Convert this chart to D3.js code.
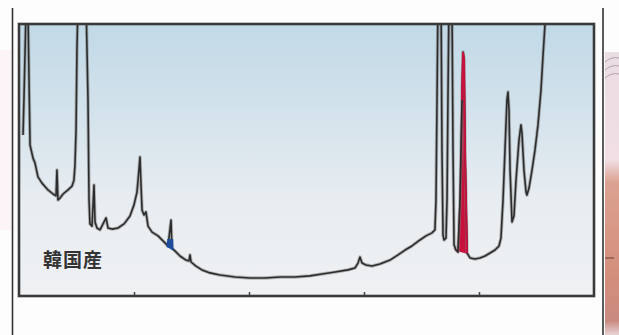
<!DOCTYPE html>
<html>
<head>
<meta charset="utf-8">
<script src="https://cdn.jsdelivr.net/npm/d3@7"></script>
<style>
  body { margin: 0; background: #fdfdfd; }
  svg { display: block; }
</style>
</head>
<body>
<svg id="chart"></svg>
<script>
// retention time (min) and detector signal
const times = [
  0.35, 0.43, 0.61, 0.78, 0.96, 1.22, 1.39, 1.65, 2.00, 2.52, 2.96, 3.22, 3.30, 3.39, 3.57, 3.83,
  4.26, 4.61, 4.78, 4.87, 4.96, 5.04, 5.13, 5.83, 6.00, 6.09, 6.17, 6.35, 6.52, 6.61, 6.78, 7.04,
  7.57, 7.74, 8.09, 8.61, 9.13, 9.65, 10.00, 10.26, 10.43, 10.52, 10.61, 10.70, 10.87, 11.04, 11.22, 11.57,
  12.09, 12.61, 12.96, 13.22, 13.30, 13.65, 14.00, 14.52, 14.78, 14.87, 14.96, 15.39, 15.91, 16.61, 17.48, 18.78,
  20.09, 21.39, 22.70, 24.00, 25.30, 26.35, 27.48, 28.61, 29.22, 29.48, 29.65, 29.83, 30.17, 30.70, 31.39, 32.26,
  32.96, 33.57, 34.17, 34.87, 35.39, 35.91, 36.17, 36.26, 36.35, 36.43, 36.70, 36.78, 36.87, 36.96, 37.13, 37.22,
  37.30, 37.39, 37.65, 37.74, 37.83, 38.00, 38.17, 38.35, 38.52, 38.61, 38.70, 38.78, 38.96, 39.22, 39.65, 40.09,
  40.52, 40.96, 41.39, 41.74, 41.91, 42.09, 42.26, 42.43, 42.52, 42.61, 42.70, 42.87, 43.04, 43.22, 43.48, 43.65,
  43.74, 43.91, 44.09, 44.17, 44.35, 44.61, 44.87, 45.13, 45.39, 45.57, 45.74, 45.91
];
const signal = [
  59.2, 72.1, 105, 105, 55.5, 50.7, 48.9, 43.8, 41.5, 39.0, 37.5, 36.8, 46.3, 35.3, 36.0, 37.5,
  39.0, 40.4, 42.6, 48.2, 61.0, 90.4, 108, 108, 72.1, 35.3, 26.5, 25.7, 40.8, 27.2, 25.0, 24.3,
  28.7, 25.0, 24.6, 25.0, 26.5, 29.4, 33.5, 38.2, 46.3, 51.1, 40.8, 31.6, 29.8, 30.9, 25.7, 23.5,
  22.1, 19.9, 18.4, 27.9, 17.6, 16.2, 14.7, 13.2, 12.9, 15.1, 12.5, 11.0, 9.6, 8.5, 7.7, 7.0,
  6.6, 6.6, 7.0, 7.0, 7.4, 8.1, 8.8, 9.6, 10.3, 12.1, 14.3, 12.1, 11.4, 11.0, 11.8, 13.2,
  15.1, 16.9, 18.4, 20.6, 22.1, 23.2, 24.3, 35.3, 72.1, 108, 108, 53.7, 22.4, 20.6, 21.3, 35.3,
  72.1, 108, 108, 53.7, 18.8, 16.9, 16.2, 35.3, 72.1, 89.7, 86.8, 53.7, 15.8, 14.0, 13.6, 14.0,
  14.7, 15.8, 16.9, 18.4, 21.3, 35.3, 53.7, 72.1, 75.0, 68.4, 46.3, 27.2, 29.4, 42.6, 57.4, 62.9,
  59.6, 46.3, 38.2, 37.1, 39.7, 46.3, 53.7, 62.9, 75.7, 88.6, 100, 108
];
const xTicks = [10, 20, 30, 40];
const label = "韓国産";
const redPeak = [38.0, 38.96];   // highlighted peak
const bluePeak = [12.9, 13.5];   // small marked peak (only its foot is coloured)
const blueBand = [15.0, 21.0];

const width = 619, height = 335;
const svg = d3.select("#chart").attr("width", width).attr("height", height);

const x = d3.scaleLinear().domain([0, 50]).range([19, 594]);
const y = d3.scaleLinear().domain([0, 100]).range([296, 24]);

const pts = times.map((t, i) => ({ t: t, v: signal[i] }));

const defs = svg.append("defs");
const bg = defs.append("linearGradient").attr("id", "bg")
  .attr("x1", 0).attr("y1", 0).attr("x2", 0).attr("y2", 1);
bg.append("stop").attr("offset", "0%").attr("stop-color", "#c1d9e7");
bg.append("stop").attr("offset", "35%").attr("stop-color", "#d5e3ec");
bg.append("stop").attr("offset", "65%").attr("stop-color", "#e8edf1");
bg.append("stop").attr("offset", "100%").attr("stop-color", "#eff1f3");

const photo = defs.append("linearGradient").attr("id", "photo")
  .attr("x1", 0).attr("y1", 0).attr("x2", 0).attr("y2", 1);
photo.append("stop").attr("offset", "0%").attr("stop-color", "#eadde3");
photo.append("stop").attr("offset", "38%").attr("stop-color", "#f1dfe5");
photo.append("stop").attr("offset", "46%").attr("stop-color", "#dca291");
photo.append("stop").attr("offset", "80%").attr("stop-color", "#d48d7b");
photo.append("stop").attr("offset", "95%").attr("stop-color", "#c98a80");
photo.append("stop").attr("offset", "100%").attr("stop-color", "#e9d3d6");

defs.append("clipPath").attr("id", "plot")
  .append("rect").attr("x", 19).attr("y", 24).attr("width", 575).attr("height", 272);
defs.append("clipPath").attr("id", "blueclip")
  .append("rect").attr("x", 19).attr("y", y(blueBand[1]))
  .attr("width", 575).attr("height", y(blueBand[0]) - y(blueBand[1]));

// faint bits of neighbouring pictures
svg.append("rect").attr("x", 0).attr("y", 50).attr("width", 11).attr("height", 180)
  .attr("fill", "#fcf4f6");
svg.append("rect").attr("x", 605).attr("y", 52).attr("width", 14).attr("height", 283)
  .attr("fill", "url(#photo)");
[58, 66, 74].forEach(yy => {
  svg.append("path").attr("d", `M605,${yy + 4} Q612,${yy - 2} 619,${yy}`)
    .attr("fill", "none").attr("stroke", "#9a8a90").attr("stroke-width", 1).attr("opacity", 0.7);
});
svg.append("line").attr("x1", 605).attr("x2", 614).attr("y1", 258).attr("y2", 258)
  .attr("stroke", "#7a4b45").attr("stroke-width", 1.2);

// page rules
[12.5, 603].forEach(px => {
  svg.append("line").attr("x1", px).attr("x2", px).attr("y1", 8).attr("y2", 335)
    .attr("stroke", "#333").attr("stroke-width", 1.6);
});

svg.append("rect").attr("x", 19).attr("y", 24).attr("width", 575).attr("height", 272)
  .attr("fill", "url(#bg)");

const g = svg.append("g").attr("clip-path", "url(#plot)");

const line = d3.line().x(d => x(d.t)).y(d => y(d.v)).curve(d3.curveLinear);

// red highlighted peak
const red = pts.filter(d => d.t >= redPeak[0] && d.t <= redPeak[1]);
g.append("path").attr("d", line(red) + "Z")
  .attr("fill", "#c8103c").attr("stroke", "#c8103c").attr("stroke-width", 1.5);

g.append("path").datum(pts).attr("d", line)
  .attr("fill", "none").attr("stroke", "#808080").attr("stroke-width", 3.4)
  .attr("stroke-opacity", 0.55).attr("stroke-linejoin", "round");
g.append("path").datum(pts).attr("d", line)
  .attr("fill", "none").attr("stroke", "#2c2c2c").attr("stroke-width", 1.6)
  .attr("stroke-linejoin", "round");

g.append("path").attr("d", line(red.slice(3)))
  .attr("fill", "none").attr("stroke", "#c8103c").attr("stroke-width", 2);

const blue = pts.filter(d => d.t >= bluePeak[0] && d.t <= bluePeak[1]);
svg.append("g").attr("clip-path", "url(#blueclip)")
  .append("path").attr("d", line(blue) + "Z")
  .attr("fill", "#1d4c9c").attr("stroke", "#1d4c9c").attr("stroke-width", 3);

// ticks on the bottom edge, pointing inwards
svg.append("g").attr("transform", "translate(0,296)")
  .call(d3.axisBottom(x).tickValues(xTicks).tickSize(-4).tickFormat(""))
  .call(a => a.select(".domain").remove())
  .call(a => a.selectAll(".tick line").attr("stroke", "#444").attr("stroke-width", 1.5));

svg.append("rect").attr("x", 19).attr("y", 24).attr("width", 575).attr("height", 272)
  .attr("fill", "none").attr("stroke", "#3a3a3a").attr("stroke-width", 2.6);

svg.append("text").attr("x", 43).attr("y", 267)
  .attr("font-family", "'Noto Sans CJK JP', sans-serif")
  .attr("font-size", 19).attr("font-weight", 700).attr("letter-spacing", 1)
  .attr("fill", "#333").text(label);
</script>
</body>
</html>
